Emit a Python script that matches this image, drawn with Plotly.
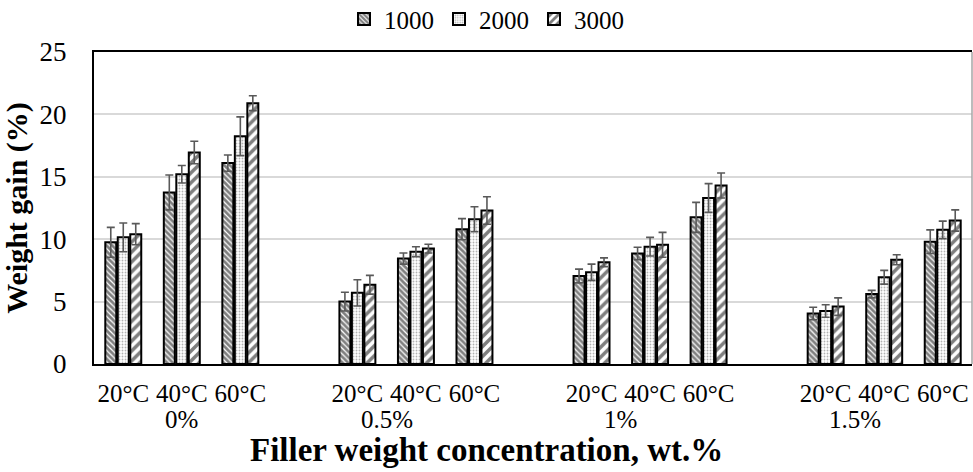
import plotly.graph_objects as go

# ---- data ----
concentrations = ["0%", "0.5%", "1%", "1.5%"]
temperatures = ["20°C", "40°C", "60°C"]
series_names = ["1000", "2000", "3000"]

# values per series, ordered by concentration then temperature
wg_1000 = [9.75, 13.75, 16.1, 5.0, 8.45, 10.8, 7.05, 8.85, 11.75, 4.05, 5.6, 9.8]
wg_2000 = [10.15, 15.2, 18.25, 5.7, 9.0, 11.6, 7.35, 9.4, 13.3, 4.25, 6.95, 10.75]
wg_3000 = [10.4, 16.95, 20.9, 6.35, 9.25, 12.3, 8.15, 9.55, 14.3, 4.6, 8.35, 11.5]

err_1000 = [1.2, 1.4, 0.65, 0.75, 0.45, 0.85, 0.55, 0.5, 1.2, 0.5, 0.3, 0.95]
err_2000 = [1.15, 0.7, 1.55, 1.05, 0.4, 1.0, 0.65, 0.75, 1.15, 0.5, 0.55, 0.7]
err_3000 = [0.85, 0.9, 0.6, 0.75, 0.35, 1.1, 0.35, 1.0, 1.0, 0.7, 0.4, 0.85]

values = [wg_1000, wg_2000, wg_3000]
errors = [err_1000, err_2000, err_3000]

# ---- category positions: one blank slot precedes each group after the first ----
slots_per_group = len(temperatures) + 1
positions = []
tick_text = []
for g, conc in enumerate(concentrations):
    for t, temp in enumerate(temperatures):
        positions.append(g * slots_per_group + t)
        tick_text.append(temp)
n_slots = len(concentrations) * slots_per_group - 1

# group label centred over its span of slots (blank slot included for later groups)
group_centers = []
for g in range(len(concentrations)):
    start = g * slots_per_group - (1 if g > 0 else 0)
    end = g * slots_per_group + len(temperatures) - 1
    group_centers.append((start + end) / 2)

patterns = [
    dict(shape="\\", size=4, solidity=0.7, fgcolor="#000000", bgcolor="#ffffff"),
    dict(shape=".", size=3, solidity=0.3, fgcolor="#666666", bgcolor="#ffffff"),
    dict(shape="/", size=7, solidity=0.5, fgcolor="#000000", bgcolor="#ffffff"),
]

FONT = "Liberation Serif"

W, H = 973, 472
ML, MR, MT, MB = 94, 1, 52, 108
fig_center_x = (W / 2 - ML) / (W - ML - MR)   # figure centre in paper coords

fig = go.Figure()
for name, vals, errs, pat in zip(series_names, values, errors, patterns):
    fig.add_trace(go.Bar(
        name=name,
        x=positions,
        y=vals,
        marker=dict(color="#ffffff", pattern=pat,
                    line=dict(color="#000000", width=2)),
        error_y=dict(type="data", array=errs, visible=True,
                     color="#595959", thickness=1.6, width=4),
    ))

for conc, cx in zip(concentrations, group_centers):
    fig.add_annotation(x=cx, y=0, xref="x", yref="paper", yanchor="middle",
                       yshift=-55, text=conc, showarrow=False,
                       font=dict(family=FONT, size=25, color="#000000"))

# x-axis title, centred on the whole chart
fig.add_annotation(x=fig_center_x, y=0, xref="paper", yref="paper",
                   yanchor="middle", yshift=-86, showarrow=False,
                   text="<b>Filler weight concentration, wt.%</b>",
                   font=dict(family=FONT, size=33, color="#000000"))

# right frame edge (grey)
fig.add_shape(type="line", xref="paper", yref="paper", x0=1, x1=1, y0=0, y1=1,
              line=dict(color="#a6a6a6", width=1.5))

fig.update_layout(
    width=W, height=H,
    margin=dict(l=ML, r=MR, t=MT, b=MB, autoexpand=False),
    paper_bgcolor="#ffffff", plot_bgcolor="#ffffff",
    barmode="group", bargap=0.36, bargroupgap=0.12,
    font=dict(family=FONT, size=24, color="#000000"),
    showlegend=True,
    legend=dict(orientation="h", x=fig_center_x, xanchor="center", y=1.105,
                yanchor="middle", font=dict(family=FONT, size=25), itemwidth=30,
                tracegroupgap=0, bgcolor="rgba(0,0,0,0)"),
    xaxis=dict(
        range=[-0.5, n_slots - 0.5],
        tickmode="array", tickvals=positions, ticktext=tick_text,
        showline=True, linecolor="#000000", linewidth=2, mirror=True,
        showgrid=False, zeroline=False, ticks="", ticklabelstandoff=6,
        tickfont=dict(family=FONT, size=25),
    ),
    yaxis=dict(
        range=[0, 25], dtick=5,
        showline=True, linecolor="#000000", linewidth=2,
        showgrid=True, gridcolor="#d9d9d9", gridwidth=1.5,
        zeroline=False, ticks="", ticklabelstandoff=20,
        tickfont=dict(family=FONT, size=27),
        title=dict(text="<b>Weight gain (%)</b>",
                   font=dict(family=FONT, size=30), standoff=4),
    ),
)

fig.write_html("out.html")
